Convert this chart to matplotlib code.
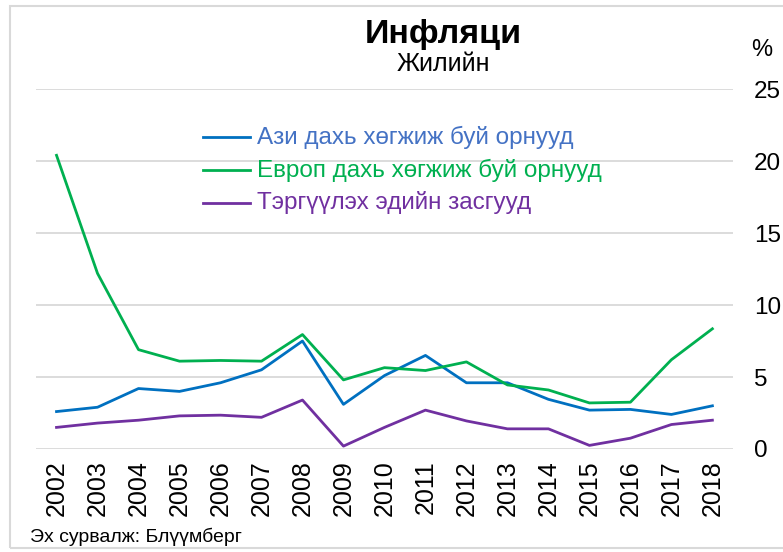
import matplotlib
matplotlib.use("Agg")
import matplotlib.pyplot as plt
from matplotlib import font_manager
import numpy as np

years = ["2002", "2003", "2004", "2005", "2006", "2007", "2008", "2009", "2010",
         "2011", "2012", "2013", "2014", "2015", "2016", "2017", "2018"]
azi = [2.6, 2.9, 4.2, 4.0, 4.6, 5.5, 7.5, 3.1, 5.1, 6.5, 4.6, 4.6, 3.45, 2.7, 2.75, 2.4, 3.0]
evrop = [20.4, 12.2, 6.9, 6.1, 6.15, 6.1, 7.95, 4.8, 5.65, 5.45, 6.05, 4.45, 4.1, 3.2, 3.25, 6.2, 8.35]
tergvvlekh = [1.5, 1.8, 2.0, 2.3, 2.35, 2.2, 3.4, 0.2, 1.5, 2.7, 1.95, 1.4, 1.4, 0.25, 0.75, 1.7, 2.0]
series_names = ["Ази дахь хөгжиж буй орнууд", "Европ дахь хөгжиж буй орнууд", "Тэргүүлэх эдийн засгууд"]
y_ticks = [0, 5, 10, 15, 20, 25]

installed = {f.name for f in font_manager.fontManager.ttflist}
narrow = "Liberation Sans Narrow" if "Liberation Sans Narrow" in installed else "Liberation Sans"
plt.rcParams["font.family"] = ["Liberation Sans", "DejaVu Sans"]

line_cols = ["#0070C0", "#00B050", "#7030A0"]
text_cols = ["#4472C4", "#00B050", "#7030A0"]

fig = plt.figure(figsize=(7.83, 5.52), dpi=100)
ax = fig.add_axes([0.046, 0.1866, 0.890, 0.652])

x = np.arange(len(years))
for vals, c in zip([azi, evrop, tergvvlekh], line_cols):
    ax.plot(x, vals, color=c, lw=2)

ax.set_xlim(-0.5, len(years) - 0.5)
ax.set_ylim(0, 25)
ax.set_yticks(y_ticks)
ax.yaxis.tick_right()
ax.tick_params(axis="y", length=0, labelsize=17.5, pad=15)
ax.set_xticks(x)
ax.set_xticklabels(years, rotation=90)
ax.tick_params(axis="x", length=0, labelsize=18, pad=8)
ax.grid(True, axis="y", color="#D9D9D9", lw=1.3)
ax.set_axisbelow(True)
for s in ax.spines.values():
    s.set_visible(False)

# legend drawn as text rows (Excel style, no box)
for i, (name, lc, tc) in enumerate(zip(series_names, line_cols, text_cols)):
    yy = 1 - (137 + 33 * i) / 552
    fig.add_artist(plt.Line2D([203 / 783, 250 / 783], [yy, yy], color=lc, lw=2, transform=fig.transFigure))
    fig.text(257 / 783, yy, name, color=tc, fontsize=17.5, family=narrow, va="center", ha="left")

fig.text(443 / 783, 1 - 34 / 552, "Инфляци", fontsize=24.5, fontweight="bold", family=narrow,
         ha="center", va="center")
fig.text(443 / 783, 1 - 64 / 552, "Жилийн", fontsize=18, family=narrow, ha="center", va="center")
fig.text(762 / 783, 1 - 50 / 552, "%", fontsize=17, ha="center", va="center")
fig.text(30 / 783, 1 - 537 / 552, "Эх сурвалж: Блүүмберг", fontsize=14, family=narrow,
         ha="left", va="center")

fig.add_artist(plt.Rectangle((10 / 783, 4 / 552), 1.0, 1 - 10 / 552, fill=False, ec="#D9D9D9",
                             lw=1.5, transform=fig.transFigure))

fig.savefig("out.png", dpi=100)
